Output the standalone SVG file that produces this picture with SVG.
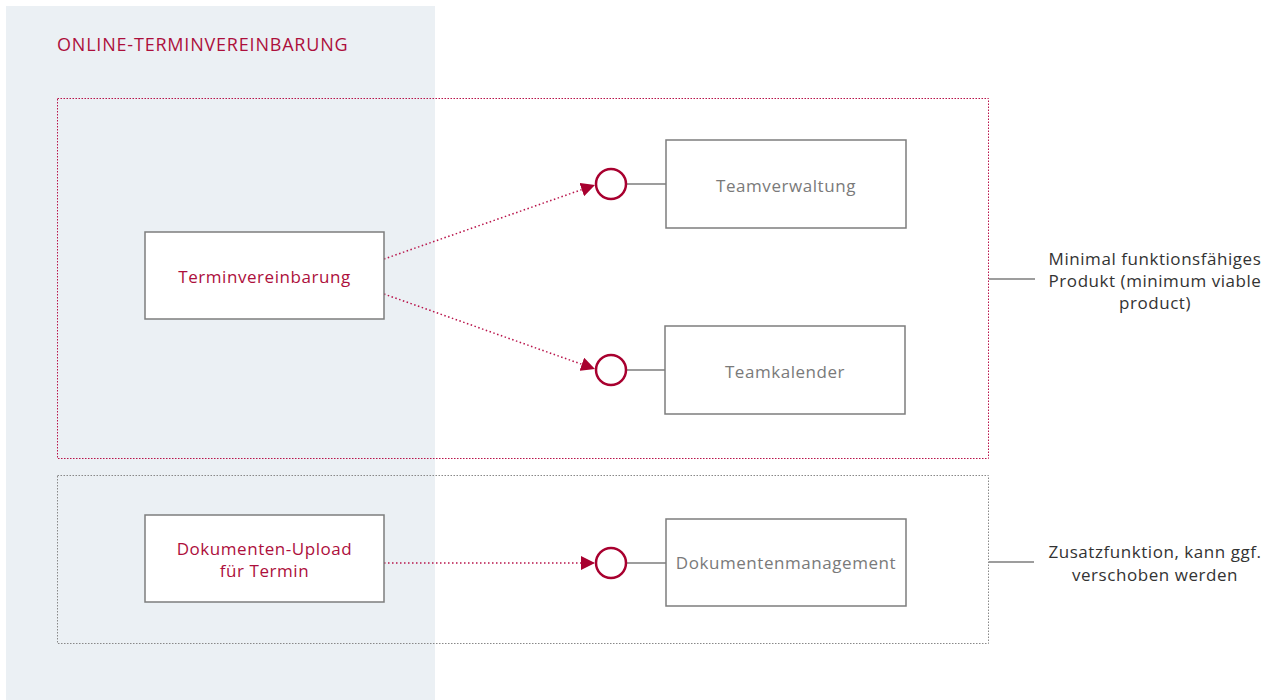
<svg xmlns="http://www.w3.org/2000/svg" width="1273" height="700" viewBox="0 0 1273 700">
<defs>
<style>
.t{font-family:"Open Sans","Liberation Sans",sans-serif;font-size:17px;letter-spacing:0.55px;text-anchor:middle}
.red{fill:#ad0f3c}
.grey{fill:#7a7a7a}
.dark{fill:#333}
.box{fill:#fff;stroke:#7d7d7d;stroke-width:1.5}
.port{fill:#fff;stroke:#a8002f;stroke-width:2.5}
.conn{stroke:#b8134a;stroke-width:1.5;stroke-dasharray:1.5 2.5;fill:none}
.solid{stroke:#7d7d7d;stroke-width:1.5;fill:none}
</style>
<marker id="ah" viewBox="0 0 10 10" refX="10" refY="5" markerWidth="14" markerHeight="14" markerUnits="userSpaceOnUse" orient="auto">
<path d="M0,0 L10,5 L0,10 z" fill="#a8002f"/>
</marker>
</defs>
<rect x="0" y="0" width="1273" height="700" fill="#fff"/>
<rect x="6" y="6" width="429" height="694" fill="#ebf0f4"/>
<text x="57" y="51" style="font-family:'Open Sans','Liberation Sans',sans-serif;font-size:18px;letter-spacing:0.8px" class="red">ONLINE-TERMINVEREINBARUNG</text>
<rect x="57.5" y="98.5" width="931" height="360" fill="none" stroke="#b8134a" stroke-width="1" stroke-dasharray="1.5 1.5"/>
<rect x="57.5" y="475.5" width="931" height="168" fill="none" stroke="#888" stroke-width="1" stroke-dasharray="1.5 1.5"/>
<g id="connectors">
<line class="conn" x1="384" y1="259" x2="595" y2="185" marker-end="url(#ah)"/>
<line class="conn" x1="384" y1="294" x2="595" y2="369" marker-end="url(#ah)"/>
<line class="conn" x1="384" y1="563" x2="595" y2="563" marker-end="url(#ah)"/>
<line class="solid" x1="626" y1="184" x2="666" y2="184"/>
<line class="solid" x1="626" y1="370" x2="665" y2="370"/>
<line class="solid" x1="626" y1="563" x2="666" y2="563"/>
<line class="solid" x1="989" y1="279" x2="1035" y2="279"/>
<line class="solid" x1="989" y1="562" x2="1034" y2="562"/>
</g>
<g id="terminvereinbarung">
<rect class="box" x="145" y="232" width="239" height="87"/>
<text class="t red" x="264.5" y="283">Terminvereinbarung</text>
</g>
<g id="teamverwaltung">
<rect class="box" x="666" y="140" width="240" height="88"/>
<text class="t grey" x="786" y="192">Teamverwaltung</text>
</g>
<g id="teamkalender">
<rect class="box" x="665" y="326" width="240" height="88"/>
<text class="t grey" x="785" y="378">Teamkalender</text>
</g>
<g id="dokumenten-upload">
<rect class="box" x="145" y="515" width="239" height="87"/>
<text class="t red" x="264.5" y="555">Dokumenten-Upload</text>
<text class="t red" x="264.5" y="577">für Termin</text>
</g>
<g id="dokumentenmanagement">
<rect class="box" x="666" y="519" width="240" height="87"/>
<text class="t grey" x="786" y="569">Dokumentenmanagement</text>
</g>
<g id="port-teamverwaltung"><circle class="port" cx="611" cy="184" r="15"/></g>
<g id="port-teamkalender"><circle class="port" cx="611" cy="370" r="15"/></g>
<g id="port-dokumentenmanagement"><circle class="port" cx="611" cy="563" r="15"/></g>
<g id="label-mvp">
<text class="t dark" x="1155" y="265">Minimal funktionsfähiges</text>
<text class="t dark" x="1155" y="287">Produkt (minimum viable</text>
<text class="t dark" x="1155" y="309">product)</text>
</g>
<g id="label-zusatz">
<text class="t dark" x="1155" y="558">Zusatzfunktion, kann ggf.</text>
<text class="t dark" x="1155" y="581">verschoben werden</text>
</g>
</svg>
